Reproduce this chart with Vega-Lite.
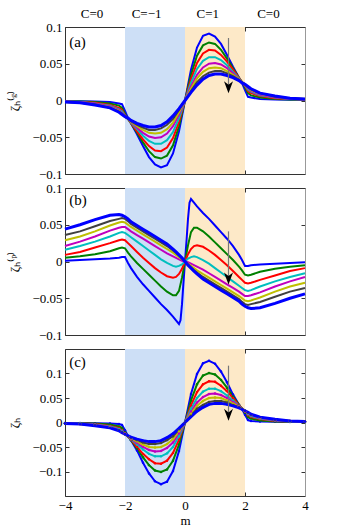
{
"$schema": "https://vega.github.io/schema/vega-lite/v6.json",
"padding": {"left": 8, "top": 7, "right": 5, "bottom": 3},
"spacing": 14,
"bounds": "flush",
"datasets": {
"shade": [{"x1": -2, "x2": 0, "s": "neg"}, {"x1": 0, "x2": 2, "s": "pos"}],
"a": [
{"k":1,"m":-4,"v":-0.001},{"k":1,"m":-3.5,"v":-0.001},{"k":1,"m":-3,"v":-0.0015},{"k":1,"m":-2.5,"v":-0.002},{"k":1,"m":-2.2,"v":-0.004},{"k":1,"m":-2.1,"v":-0.005},{"k":1,"m":-2,"v":-0.014},{"k":1,"m":-1.9,"v":-0.024},{"k":1,"m":-1.8,"v":-0.031},{"k":1,"m":-1.6,"v":-0.046},{"k":1,"m":-1.4,"v":-0.062},{"k":1,"m":-1.2,"v":-0.077},{"k":1,"m":-1,"v":-0.087},{"k":1,"m":-0.8,"v":-0.091},{"k":1,"m":-0.6,"v":-0.088},{"k":1,"m":-0.4,"v":-0.072},{"k":1,"m":-0.2,"v":-0.042},{"k":1,"m":0,"v":0},{"k":1,"m":0.2,"v":0.042},{"k":1,"m":0.4,"v":0.072},{"k":1,"m":0.6,"v":0.088},{"k":1,"m":0.8,"v":0.091},{"k":1,"m":1,"v":0.087},{"k":1,"m":1.2,"v":0.077},{"k":1,"m":1.4,"v":0.062},{"k":1,"m":1.6,"v":0.046},{"k":1,"m":1.8,"v":0.031},{"k":1,"m":1.9,"v":0.024},{"k":1,"m":2,"v":0.014},{"k":1,"m":2.1,"v":0.005},{"k":1,"m":2.2,"v":0.004},{"k":1,"m":2.5,"v":0.002},{"k":1,"m":3,"v":0.0015},{"k":1,"m":3.5,"v":0.001},{"k":1,"m":4,"v":0.001},
{"k":2,"m":-4,"v":-0.001},{"k":2,"m":-3.5,"v":-0.0015},{"k":2,"m":-3,"v":-0.002},{"k":2,"m":-2.5,"v":-0.004},{"k":2,"m":-2.2,"v":-0.007},{"k":2,"m":-2.1,"v":-0.01},{"k":2,"m":-2,"v":-0.018},{"k":2,"m":-1.9,"v":-0.025},{"k":2,"m":-1.8,"v":-0.031},{"k":2,"m":-1.6,"v":-0.044},{"k":2,"m":-1.4,"v":-0.057},{"k":2,"m":-1.2,"v":-0.069},{"k":2,"m":-1,"v":-0.077},{"k":2,"m":-0.8,"v":-0.079},{"k":2,"m":-0.6,"v":-0.075},{"k":2,"m":-0.4,"v":-0.061},{"k":2,"m":-0.2,"v":-0.035},{"k":2,"m":0,"v":0},{"k":2,"m":0.2,"v":0.035},{"k":2,"m":0.4,"v":0.061},{"k":2,"m":0.6,"v":0.075},{"k":2,"m":0.8,"v":0.079},{"k":2,"m":1,"v":0.077},{"k":2,"m":1.2,"v":0.069},{"k":2,"m":1.4,"v":0.057},{"k":2,"m":1.6,"v":0.044},{"k":2,"m":1.8,"v":0.031},{"k":2,"m":1.9,"v":0.025},{"k":2,"m":2,"v":0.018},{"k":2,"m":2.1,"v":0.01},{"k":2,"m":2.2,"v":0.007},{"k":2,"m":2.5,"v":0.004},{"k":2,"m":3,"v":0.002},{"k":2,"m":3.5,"v":0.0015},{"k":2,"m":4,"v":0.001},
{"k":3,"m":-4,"v":-0.0015},{"k":3,"m":-3.5,"v":-0.002},{"k":3,"m":-3,"v":-0.003},{"k":3,"m":-2.5,"v":-0.006},{"k":3,"m":-2.2,"v":-0.01},{"k":3,"m":-2.1,"v":-0.013},{"k":3,"m":-2,"v":-0.02},{"k":3,"m":-1.9,"v":-0.025},{"k":3,"m":-1.8,"v":-0.031},{"k":3,"m":-1.6,"v":-0.042},{"k":3,"m":-1.4,"v":-0.053},{"k":3,"m":-1.2,"v":-0.062},{"k":3,"m":-1,"v":-0.068},{"k":3,"m":-0.8,"v":-0.069},{"k":3,"m":-0.6,"v":-0.064},{"k":3,"m":-0.4,"v":-0.051},{"k":3,"m":-0.2,"v":-0.029},{"k":3,"m":0,"v":0},{"k":3,"m":0.2,"v":0.029},{"k":3,"m":0.4,"v":0.051},{"k":3,"m":0.6,"v":0.064},{"k":3,"m":0.8,"v":0.069},{"k":3,"m":1,"v":0.068},{"k":3,"m":1.2,"v":0.062},{"k":3,"m":1.4,"v":0.053},{"k":3,"m":1.6,"v":0.042},{"k":3,"m":1.8,"v":0.031},{"k":3,"m":1.9,"v":0.025},{"k":3,"m":2,"v":0.02},{"k":3,"m":2.1,"v":0.013},{"k":3,"m":2.2,"v":0.01},{"k":3,"m":2.5,"v":0.006},{"k":3,"m":3,"v":0.003},{"k":3,"m":3.5,"v":0.002},{"k":3,"m":4,"v":0.0015},
{"k":4,"m":-4,"v":-0.0015},{"k":4,"m":-3.5,"v":-0.002},{"k":4,"m":-3,"v":-0.004},{"k":4,"m":-2.5,"v":-0.007},{"k":4,"m":-2.2,"v":-0.012},{"k":4,"m":-2.1,"v":-0.015},{"k":4,"m":-2,"v":-0.021},{"k":4,"m":-1.9,"v":-0.025},{"k":4,"m":-1.8,"v":-0.03},{"k":4,"m":-1.6,"v":-0.039},{"k":4,"m":-1.4,"v":-0.048},{"k":4,"m":-1.2,"v":-0.055},{"k":4,"m":-1,"v":-0.059},{"k":4,"m":-0.8,"v":-0.059},{"k":4,"m":-0.6,"v":-0.054},{"k":4,"m":-0.4,"v":-0.043},{"k":4,"m":-0.2,"v":-0.024},{"k":4,"m":0,"v":0},{"k":4,"m":0.2,"v":0.024},{"k":4,"m":0.4,"v":0.043},{"k":4,"m":0.6,"v":0.054},{"k":4,"m":0.8,"v":0.059},{"k":4,"m":1,"v":0.059},{"k":4,"m":1.2,"v":0.055},{"k":4,"m":1.4,"v":0.048},{"k":4,"m":1.6,"v":0.039},{"k":4,"m":1.8,"v":0.03},{"k":4,"m":1.9,"v":0.025},{"k":4,"m":2,"v":0.021},{"k":4,"m":2.1,"v":0.015},{"k":4,"m":2.2,"v":0.012},{"k":4,"m":2.5,"v":0.007},{"k":4,"m":3,"v":0.004},{"k":4,"m":3.5,"v":0.002},{"k":4,"m":4,"v":0.0015},
{"k":5,"m":-4,"v":-0.0015},{"k":5,"m":-3.5,"v":-0.0025},{"k":5,"m":-3,"v":-0.004},{"k":5,"m":-2.5,"v":-0.008},{"k":5,"m":-2.2,"v":-0.013},{"k":5,"m":-2.1,"v":-0.017},{"k":5,"m":-2,"v":-0.021},{"k":5,"m":-1.9,"v":-0.025},{"k":5,"m":-1.8,"v":-0.029},{"k":5,"m":-1.6,"v":-0.037},{"k":5,"m":-1.4,"v":-0.044},{"k":5,"m":-1.2,"v":-0.049},{"k":5,"m":-1,"v":-0.051},{"k":5,"m":-0.8,"v":-0.05},{"k":5,"m":-0.6,"v":-0.045},{"k":5,"m":-0.4,"v":-0.035},{"k":5,"m":-0.2,"v":-0.019},{"k":5,"m":0,"v":0},{"k":5,"m":0.2,"v":0.019},{"k":5,"m":0.4,"v":0.035},{"k":5,"m":0.6,"v":0.045},{"k":5,"m":0.8,"v":0.05},{"k":5,"m":1,"v":0.051},{"k":5,"m":1.2,"v":0.049},{"k":5,"m":1.4,"v":0.044},{"k":5,"m":1.6,"v":0.037},{"k":5,"m":1.8,"v":0.029},{"k":5,"m":1.9,"v":0.025},{"k":5,"m":2,"v":0.021},{"k":5,"m":2.1,"v":0.017},{"k":5,"m":2.2,"v":0.013},{"k":5,"m":2.5,"v":0.008},{"k":5,"m":3,"v":0.004},{"k":5,"m":3.5,"v":0.0025},{"k":5,"m":4,"v":0.0015},
{"k":6,"m":-4,"v":-0.002},{"k":6,"m":-3.5,"v":-0.003},{"k":6,"m":-3,"v":-0.005},{"k":6,"m":-2.5,"v":-0.009},{"k":6,"m":-2.2,"v":-0.014},{"k":6,"m":-2.1,"v":-0.018},{"k":6,"m":-2,"v":-0.022},{"k":6,"m":-1.9,"v":-0.025},{"k":6,"m":-1.8,"v":-0.029},{"k":6,"m":-1.6,"v":-0.035},{"k":6,"m":-1.4,"v":-0.04},{"k":6,"m":-1.2,"v":-0.044},{"k":6,"m":-1,"v":-0.045},{"k":6,"m":-0.8,"v":-0.044},{"k":6,"m":-0.6,"v":-0.039},{"k":6,"m":-0.4,"v":-0.03},{"k":6,"m":-0.2,"v":-0.016},{"k":6,"m":0,"v":0},{"k":6,"m":0.2,"v":0.016},{"k":6,"m":0.4,"v":0.03},{"k":6,"m":0.6,"v":0.039},{"k":6,"m":0.8,"v":0.044},{"k":6,"m":1,"v":0.045},{"k":6,"m":1.2,"v":0.044},{"k":6,"m":1.4,"v":0.04},{"k":6,"m":1.6,"v":0.035},{"k":6,"m":1.8,"v":0.029},{"k":6,"m":1.9,"v":0.025},{"k":6,"m":2,"v":0.022},{"k":6,"m":2.1,"v":0.018},{"k":6,"m":2.2,"v":0.014},{"k":6,"m":2.5,"v":0.009},{"k":6,"m":3,"v":0.005},{"k":6,"m":3.5,"v":0.003},{"k":6,"m":4,"v":0.002},
{"k":7,"m":-4,"v":-0.002},{"k":7,"m":-3.5,"v":-0.003},{"k":7,"m":-3,"v":-0.005},{"k":7,"m":-2.5,"v":-0.01},{"k":7,"m":-2.2,"v":-0.015},{"k":7,"m":-2.1,"v":-0.018},{"k":7,"m":-2,"v":-0.022},{"k":7,"m":-1.9,"v":-0.025},{"k":7,"m":-1.8,"v":-0.028},{"k":7,"m":-1.6,"v":-0.033},{"k":7,"m":-1.4,"v":-0.037},{"k":7,"m":-1.2,"v":-0.04},{"k":7,"m":-1,"v":-0.04},{"k":7,"m":-0.8,"v":-0.038},{"k":7,"m":-0.6,"v":-0.033},{"k":7,"m":-0.4,"v":-0.025},{"k":7,"m":-0.2,"v":-0.013},{"k":7,"m":0,"v":0},{"k":7,"m":0.2,"v":0.013},{"k":7,"m":0.4,"v":0.025},{"k":7,"m":0.6,"v":0.033},{"k":7,"m":0.8,"v":0.038},{"k":7,"m":1,"v":0.04},{"k":7,"m":1.2,"v":0.04},{"k":7,"m":1.4,"v":0.037},{"k":7,"m":1.6,"v":0.033},{"k":7,"m":1.8,"v":0.028},{"k":7,"m":1.9,"v":0.025},{"k":7,"m":2,"v":0.022},{"k":7,"m":2.1,"v":0.018},{"k":7,"m":2.2,"v":0.015},{"k":7,"m":2.5,"v":0.01},{"k":7,"m":3,"v":0.005},{"k":7,"m":3.5,"v":0.003},{"k":7,"m":4,"v":0.002},
{"k":8,"m":-4,"v":-0.002},{"k":8,"m":-3.5,"v":-0.003},{"k":8,"m":-3,"v":-0.006},{"k":8,"m":-2.5,"v":-0.01},{"k":8,"m":-2.2,"v":-0.016},{"k":8,"m":-2.1,"v":-0.019},{"k":8,"m":-2,"v":-0.022},{"k":8,"m":-1.9,"v":-0.024},{"k":8,"m":-1.8,"v":-0.027},{"k":8,"m":-1.6,"v":-0.031},{"k":8,"m":-1.4,"v":-0.034},{"k":8,"m":-1.2,"v":-0.036},{"k":8,"m":-1,"v":-0.036},{"k":8,"m":-0.8,"v":-0.034},{"k":8,"m":-0.6,"v":-0.029},{"k":8,"m":-0.4,"v":-0.021},{"k":8,"m":-0.2,"v":-0.011},{"k":8,"m":0,"v":0},{"k":8,"m":0.2,"v":0.011},{"k":8,"m":0.4,"v":0.021},{"k":8,"m":0.6,"v":0.029},{"k":8,"m":0.8,"v":0.034},{"k":8,"m":1,"v":0.036},{"k":8,"m":1.2,"v":0.036},{"k":8,"m":1.4,"v":0.034},{"k":8,"m":1.6,"v":0.031},{"k":8,"m":1.8,"v":0.027},{"k":8,"m":1.9,"v":0.024},{"k":8,"m":2,"v":0.022},{"k":8,"m":2.1,"v":0.019},{"k":8,"m":2.2,"v":0.016},{"k":8,"m":2.5,"v":0.01},{"k":8,"m":3,"v":0.006},{"k":8,"m":3.5,"v":0.003},{"k":8,"m":4,"v":0.002}
],
"b": [
{"k":1,"m":-4,"v":0.001},{"k":1,"m":-3.5,"v":0.002},{"k":1,"m":-3,"v":0.003},{"k":1,"m":-2.5,"v":0.004},{"k":1,"m":-2.2,"v":0.005},{"k":1,"m":-2.1,"v":0.006},{"k":1,"m":-2,"v":0.006},{"k":1,"m":-1.9,"v":-0.002},{"k":1,"m":-1.8,"v":-0.009},{"k":1,"m":-1.6,"v":-0.021},{"k":1,"m":-1.4,"v":-0.031},{"k":1,"m":-1.2,"v":-0.04},{"k":1,"m":-1,"v":-0.049},{"k":1,"m":-0.8,"v":-0.058},{"k":1,"m":-0.6,"v":-0.066},{"k":1,"m":-0.4,"v":-0.075},{"k":1,"m":-0.3,"v":-0.08},{"k":1,"m":-0.2,"v":-0.085},{"k":1,"m":-0.15,"v":-0.08},{"k":1,"m":-0.1,"v":-0.058},{"k":1,"m":-0.05,"v":-0.028},{"k":1,"m":0,"v":0},{"k":1,"m":0.05,"v":0.028},{"k":1,"m":0.1,"v":0.058},{"k":1,"m":0.15,"v":0.08},{"k":1,"m":0.2,"v":0.085},{"k":1,"m":0.3,"v":0.08},{"k":1,"m":0.4,"v":0.075},{"k":1,"m":0.6,"v":0.066},{"k":1,"m":0.8,"v":0.058},{"k":1,"m":1,"v":0.049},{"k":1,"m":1.2,"v":0.04},{"k":1,"m":1.4,"v":0.031},{"k":1,"m":1.6,"v":0.021},{"k":1,"m":1.8,"v":0.009},{"k":1,"m":1.9,"v":0.002},{"k":1,"m":2,"v":-0.006},{"k":1,"m":2.1,"v":-0.006},{"k":1,"m":2.2,"v":-0.005},{"k":1,"m":2.5,"v":-0.004},{"k":1,"m":3,"v":-0.003},{"k":1,"m":3.5,"v":-0.002},{"k":1,"m":4,"v":-0.001},
{"k":2,"m":-4,"v":0.005},{"k":2,"m":-3.5,"v":0.007},{"k":2,"m":-3,"v":0.01},{"k":2,"m":-2.5,"v":0.014},{"k":2,"m":-2.2,"v":0.018},{"k":2,"m":-2.1,"v":0.019},{"k":2,"m":-2,"v":0.018},{"k":2,"m":-1.9,"v":0.012},{"k":2,"m":-1.8,"v":0.007},{"k":2,"m":-1.6,"v":-0.002},{"k":2,"m":-1.4,"v":-0.01},{"k":2,"m":-1.2,"v":-0.018},{"k":2,"m":-1,"v":-0.026},{"k":2,"m":-0.8,"v":-0.034},{"k":2,"m":-0.6,"v":-0.041},{"k":2,"m":-0.4,"v":-0.046},{"k":2,"m":-0.3,"v":-0.046},{"k":2,"m":-0.2,"v":-0.04},{"k":2,"m":-0.1,"v":-0.022},{"k":2,"m":0,"v":0},{"k":2,"m":0.1,"v":0.022},{"k":2,"m":0.2,"v":0.04},{"k":2,"m":0.3,"v":0.046},{"k":2,"m":0.4,"v":0.046},{"k":2,"m":0.6,"v":0.041},{"k":2,"m":0.8,"v":0.034},{"k":2,"m":1,"v":0.026},{"k":2,"m":1.2,"v":0.018},{"k":2,"m":1.4,"v":0.01},{"k":2,"m":1.6,"v":0.002},{"k":2,"m":1.8,"v":-0.007},{"k":2,"m":1.9,"v":-0.012},{"k":2,"m":2,"v":-0.018},{"k":2,"m":2.1,"v":-0.019},{"k":2,"m":2.2,"v":-0.018},{"k":2,"m":2.5,"v":-0.014},{"k":2,"m":3,"v":-0.01},{"k":2,"m":3.5,"v":-0.007},{"k":2,"m":4,"v":-0.005},
{"k":3,"m":-4,"v":0.009},{"k":3,"m":-3.5,"v":0.013},{"k":3,"m":-3,"v":0.019},{"k":3,"m":-2.5,"v":0.025},{"k":3,"m":-2.2,"v":0.029},{"k":3,"m":-2.1,"v":0.03},{"k":3,"m":-2,"v":0.029},{"k":3,"m":-1.9,"v":0.025},{"k":3,"m":-1.8,"v":0.021},{"k":3,"m":-1.6,"v":0.013},{"k":3,"m":-1.4,"v":0.005},{"k":3,"m":-1.2,"v":-0.002},{"k":3,"m":-1,"v":-0.009},{"k":3,"m":-0.8,"v":-0.015},{"k":3,"m":-0.6,"v":-0.02},{"k":3,"m":-0.4,"v":-0.022},{"k":3,"m":-0.3,"v":-0.021},{"k":3,"m":-0.2,"v":-0.017},{"k":3,"m":-0.1,"v":-0.01},{"k":3,"m":0,"v":0},{"k":3,"m":0.1,"v":0.01},{"k":3,"m":0.2,"v":0.017},{"k":3,"m":0.3,"v":0.021},{"k":3,"m":0.4,"v":0.022},{"k":3,"m":0.6,"v":0.02},{"k":3,"m":0.8,"v":0.015},{"k":3,"m":1,"v":0.009},{"k":3,"m":1.2,"v":0.002},{"k":3,"m":1.4,"v":-0.005},{"k":3,"m":1.6,"v":-0.013},{"k":3,"m":1.8,"v":-0.021},{"k":3,"m":1.9,"v":-0.025},{"k":3,"m":2,"v":-0.029},{"k":3,"m":2.1,"v":-0.03},{"k":3,"m":2.2,"v":-0.029},{"k":3,"m":2.5,"v":-0.025},{"k":3,"m":3,"v":-0.019},{"k":3,"m":3.5,"v":-0.013},{"k":3,"m":4,"v":-0.009},
{"k":4,"m":-4,"v":0.016},{"k":4,"m":-3.5,"v":0.021},{"k":4,"m":-3,"v":0.027},{"k":4,"m":-2.5,"v":0.034},{"k":4,"m":-2.2,"v":0.039},{"k":4,"m":-2.1,"v":0.04},{"k":4,"m":-2,"v":0.039},{"k":4,"m":-1.9,"v":0.036},{"k":4,"m":-1.8,"v":0.033},{"k":4,"m":-1.6,"v":0.027},{"k":4,"m":-1.4,"v":0.021},{"k":4,"m":-1.2,"v":0.015},{"k":4,"m":-1,"v":0.009},{"k":4,"m":-0.8,"v":0.003},{"k":4,"m":-0.6,"v":-0.002},{"k":4,"m":-0.4,"v":-0.006},{"k":4,"m":-0.3,"v":-0.007},{"k":4,"m":-0.2,"v":-0.006},{"k":4,"m":-0.1,"v":-0.004},{"k":4,"m":0,"v":0},{"k":4,"m":0.1,"v":0.004},{"k":4,"m":0.2,"v":0.006},{"k":4,"m":0.3,"v":0.007},{"k":4,"m":0.4,"v":0.006},{"k":4,"m":0.6,"v":0.002},{"k":4,"m":0.8,"v":-0.003},{"k":4,"m":1,"v":-0.009},{"k":4,"m":1.2,"v":-0.015},{"k":4,"m":1.4,"v":-0.021},{"k":4,"m":1.6,"v":-0.027},{"k":4,"m":1.8,"v":-0.033},{"k":4,"m":1.9,"v":-0.036},{"k":4,"m":2,"v":-0.039},{"k":4,"m":2.1,"v":-0.04},{"k":4,"m":2.2,"v":-0.039},{"k":4,"m":2.5,"v":-0.034},{"k":4,"m":3,"v":-0.027},{"k":4,"m":3.5,"v":-0.021},{"k":4,"m":4,"v":-0.016},
{"k":5,"m":-4,"v":0.021},{"k":5,"m":-3.5,"v":0.027},{"k":5,"m":-3,"v":0.034},{"k":5,"m":-2.5,"v":0.042},{"k":5,"m":-2.2,"v":0.046},{"k":5,"m":-2.1,"v":0.047},{"k":5,"m":-2,"v":0.047},{"k":5,"m":-1.9,"v":0.044},{"k":5,"m":-1.8,"v":0.041},{"k":5,"m":-1.6,"v":0.036},{"k":5,"m":-1.4,"v":0.031},{"k":5,"m":-1.2,"v":0.026},{"k":5,"m":-1,"v":0.021},{"k":5,"m":-0.8,"v":0.016},{"k":5,"m":-0.6,"v":0.011},{"k":5,"m":-0.4,"v":0.007},{"k":5,"m":-0.3,"v":0.005},{"k":5,"m":-0.2,"v":0.003},{"k":5,"m":-0.1,"v":0.001},{"k":5,"m":0,"v":0},{"k":5,"m":0.1,"v":-0.001},{"k":5,"m":0.2,"v":-0.003},{"k":5,"m":0.3,"v":-0.005},{"k":5,"m":0.4,"v":-0.007},{"k":5,"m":0.6,"v":-0.011},{"k":5,"m":0.8,"v":-0.016},{"k":5,"m":1,"v":-0.021},{"k":5,"m":1.2,"v":-0.026},{"k":5,"m":1.4,"v":-0.031},{"k":5,"m":1.6,"v":-0.036},{"k":5,"m":1.8,"v":-0.041},{"k":5,"m":1.9,"v":-0.044},{"k":5,"m":2,"v":-0.047},{"k":5,"m":2.1,"v":-0.047},{"k":5,"m":2.2,"v":-0.046},{"k":5,"m":2.5,"v":-0.042},{"k":5,"m":3,"v":-0.034},{"k":5,"m":3.5,"v":-0.027},{"k":5,"m":4,"v":-0.021},
{"k":6,"m":-4,"v":0.029},{"k":6,"m":-3.5,"v":0.034},{"k":6,"m":-3,"v":0.041},{"k":6,"m":-2.5,"v":0.049},{"k":6,"m":-2.2,"v":0.053},{"k":6,"m":-2.1,"v":0.054},{"k":6,"m":-2,"v":0.053},{"k":6,"m":-1.9,"v":0.05},{"k":6,"m":-1.8,"v":0.047},{"k":6,"m":-1.6,"v":0.042},{"k":6,"m":-1.4,"v":0.037},{"k":6,"m":-1.2,"v":0.032},{"k":6,"m":-1,"v":0.027},{"k":6,"m":-0.8,"v":0.022},{"k":6,"m":-0.6,"v":0.017},{"k":6,"m":-0.4,"v":0.012},{"k":6,"m":-0.3,"v":0.009},{"k":6,"m":-0.2,"v":0.006},{"k":6,"m":-0.1,"v":0.003},{"k":6,"m":0,"v":0},{"k":6,"m":0.1,"v":-0.003},{"k":6,"m":0.2,"v":-0.006},{"k":6,"m":0.3,"v":-0.009},{"k":6,"m":0.4,"v":-0.012},{"k":6,"m":0.6,"v":-0.017},{"k":6,"m":0.8,"v":-0.022},{"k":6,"m":1,"v":-0.027},{"k":6,"m":1.2,"v":-0.032},{"k":6,"m":1.4,"v":-0.037},{"k":6,"m":1.6,"v":-0.042},{"k":6,"m":1.8,"v":-0.047},{"k":6,"m":1.9,"v":-0.05},{"k":6,"m":2,"v":-0.053},{"k":6,"m":2.1,"v":-0.054},{"k":6,"m":2.2,"v":-0.053},{"k":6,"m":2.5,"v":-0.049},{"k":6,"m":3,"v":-0.041},{"k":6,"m":3.5,"v":-0.034},{"k":6,"m":4,"v":-0.029},
{"k":7,"m":-4,"v":0.036},{"k":7,"m":-3.5,"v":0.041},{"k":7,"m":-3,"v":0.048},{"k":7,"m":-2.5,"v":0.055},{"k":7,"m":-2.2,"v":0.058},{"k":7,"m":-2.1,"v":0.059},{"k":7,"m":-2,"v":0.058},{"k":7,"m":-1.9,"v":0.055},{"k":7,"m":-1.8,"v":0.051},{"k":7,"m":-1.6,"v":0.046},{"k":7,"m":-1.4,"v":0.041},{"k":7,"m":-1.2,"v":0.036},{"k":7,"m":-1,"v":0.031},{"k":7,"m":-0.8,"v":0.026},{"k":7,"m":-0.6,"v":0.021},{"k":7,"m":-0.4,"v":0.015},{"k":7,"m":-0.3,"v":0.012},{"k":7,"m":-0.2,"v":0.008},{"k":7,"m":-0.1,"v":0.004},{"k":7,"m":0,"v":0},{"k":7,"m":0.1,"v":-0.004},{"k":7,"m":0.2,"v":-0.008},{"k":7,"m":0.3,"v":-0.012},{"k":7,"m":0.4,"v":-0.015},{"k":7,"m":0.6,"v":-0.021},{"k":7,"m":0.8,"v":-0.026},{"k":7,"m":1,"v":-0.031},{"k":7,"m":1.2,"v":-0.036},{"k":7,"m":1.4,"v":-0.041},{"k":7,"m":1.6,"v":-0.046},{"k":7,"m":1.8,"v":-0.051},{"k":7,"m":1.9,"v":-0.055},{"k":7,"m":2,"v":-0.058},{"k":7,"m":2.1,"v":-0.059},{"k":7,"m":2.2,"v":-0.058},{"k":7,"m":2.5,"v":-0.055},{"k":7,"m":3,"v":-0.048},{"k":7,"m":3.5,"v":-0.041},{"k":7,"m":4,"v":-0.036},
{"k":8,"m":-4,"v":0.044},{"k":8,"m":-3.5,"v":0.05},{"k":8,"m":-3,"v":0.057},{"k":8,"m":-2.5,"v":0.063},{"k":8,"m":-2.2,"v":0.064},{"k":8,"m":-2.1,"v":0.063},{"k":8,"m":-2,"v":0.061},{"k":8,"m":-1.9,"v":0.058},{"k":8,"m":-1.8,"v":0.054},{"k":8,"m":-1.6,"v":0.049},{"k":8,"m":-1.4,"v":0.044},{"k":8,"m":-1.2,"v":0.039},{"k":8,"m":-1,"v":0.034},{"k":8,"m":-0.8,"v":0.029},{"k":8,"m":-0.6,"v":0.024},{"k":8,"m":-0.4,"v":0.017},{"k":8,"m":-0.3,"v":0.013},{"k":8,"m":-0.2,"v":0.009},{"k":8,"m":-0.1,"v":0.005},{"k":8,"m":0,"v":0},{"k":8,"m":0.1,"v":-0.005},{"k":8,"m":0.2,"v":-0.009},{"k":8,"m":0.3,"v":-0.013},{"k":8,"m":0.4,"v":-0.017},{"k":8,"m":0.6,"v":-0.024},{"k":8,"m":0.8,"v":-0.029},{"k":8,"m":1,"v":-0.034},{"k":8,"m":1.2,"v":-0.039},{"k":8,"m":1.4,"v":-0.044},{"k":8,"m":1.6,"v":-0.049},{"k":8,"m":1.8,"v":-0.054},{"k":8,"m":1.9,"v":-0.058},{"k":8,"m":2,"v":-0.061},{"k":8,"m":2.1,"v":-0.063},{"k":8,"m":2.2,"v":-0.064},{"k":8,"m":2.5,"v":-0.063},{"k":8,"m":3,"v":-0.057},{"k":8,"m":3.5,"v":-0.05},{"k":8,"m":4,"v":-0.044}
],
"c": [
{"k":1,"m":-4,"v":-0.001},{"k":1,"m":-3.5,"v":-0.001},{"k":1,"m":-3,"v":-0.0015},{"k":1,"m":-2.5,"v":-0.002},{"k":1,"m":-2.2,"v":-0.003},{"k":1,"m":-2.1,"v":-0.005},{"k":1,"m":-2,"v":-0.016},{"k":1,"m":-1.9,"v":-0.028},{"k":1,"m":-1.8,"v":-0.036},{"k":1,"m":-1.6,"v":-0.057},{"k":1,"m":-1.4,"v":-0.082},{"k":1,"m":-1.2,"v":-0.104},{"k":1,"m":-1,"v":-0.12},{"k":1,"m":-0.8,"v":-0.126},{"k":1,"m":-0.6,"v":-0.121},{"k":1,"m":-0.4,"v":-0.099},{"k":1,"m":-0.2,"v":-0.058},{"k":1,"m":0,"v":0},{"k":1,"m":0.2,"v":0.058},{"k":1,"m":0.4,"v":0.099},{"k":1,"m":0.6,"v":0.121},{"k":1,"m":0.8,"v":0.126},{"k":1,"m":1,"v":0.12},{"k":1,"m":1.2,"v":0.104},{"k":1,"m":1.4,"v":0.082},{"k":1,"m":1.6,"v":0.057},{"k":1,"m":1.8,"v":0.036},{"k":1,"m":1.9,"v":0.028},{"k":1,"m":2,"v":0.016},{"k":1,"m":2.1,"v":0.005},{"k":1,"m":2.2,"v":0.003},{"k":1,"m":2.5,"v":0.002},{"k":1,"m":3,"v":0.0015},{"k":1,"m":3.5,"v":0.001},{"k":1,"m":4,"v":0.001},
{"k":2,"m":-4,"v":-0.001},{"k":2,"m":-3.5,"v":-0.0015},{"k":2,"m":-3,"v":-0.002},{"k":2,"m":-2.5,"v":-0.004},{"k":2,"m":-2.2,"v":-0.008},{"k":2,"m":-2.1,"v":-0.011},{"k":2,"m":-2,"v":-0.02},{"k":2,"m":-1.9,"v":-0.028},{"k":2,"m":-1.8,"v":-0.036},{"k":2,"m":-1.6,"v":-0.053},{"k":2,"m":-1.4,"v":-0.071},{"k":2,"m":-1.2,"v":-0.087},{"k":2,"m":-1,"v":-0.098},{"k":2,"m":-0.8,"v":-0.101},{"k":2,"m":-0.6,"v":-0.096},{"k":2,"m":-0.4,"v":-0.078},{"k":2,"m":-0.2,"v":-0.045},{"k":2,"m":0,"v":0},{"k":2,"m":0.2,"v":0.045},{"k":2,"m":0.4,"v":0.078},{"k":2,"m":0.6,"v":0.096},{"k":2,"m":0.8,"v":0.101},{"k":2,"m":1,"v":0.098},{"k":2,"m":1.2,"v":0.087},{"k":2,"m":1.4,"v":0.071},{"k":2,"m":1.6,"v":0.053},{"k":2,"m":1.8,"v":0.036},{"k":2,"m":1.9,"v":0.028},{"k":2,"m":2,"v":0.02},{"k":2,"m":2.1,"v":0.011},{"k":2,"m":2.2,"v":0.008},{"k":2,"m":2.5,"v":0.004},{"k":2,"m":3,"v":0.002},{"k":2,"m":3.5,"v":0.0015},{"k":2,"m":4,"v":0.001},
{"k":3,"m":-4,"v":-0.0015},{"k":3,"m":-3.5,"v":-0.002},{"k":3,"m":-3,"v":-0.003},{"k":3,"m":-2.5,"v":-0.007},{"k":3,"m":-2.2,"v":-0.011},{"k":3,"m":-2.1,"v":-0.015},{"k":3,"m":-2,"v":-0.022},{"k":3,"m":-1.9,"v":-0.028},{"k":3,"m":-1.8,"v":-0.035},{"k":3,"m":-1.6,"v":-0.05},{"k":3,"m":-1.4,"v":-0.064},{"k":3,"m":-1.2,"v":-0.075},{"k":3,"m":-1,"v":-0.083},{"k":3,"m":-0.8,"v":-0.084},{"k":3,"m":-0.6,"v":-0.078},{"k":3,"m":-0.4,"v":-0.062},{"k":3,"m":-0.2,"v":-0.035},{"k":3,"m":0,"v":0},{"k":3,"m":0.2,"v":0.035},{"k":3,"m":0.4,"v":0.062},{"k":3,"m":0.6,"v":0.078},{"k":3,"m":0.8,"v":0.084},{"k":3,"m":1,"v":0.083},{"k":3,"m":1.2,"v":0.075},{"k":3,"m":1.4,"v":0.064},{"k":3,"m":1.6,"v":0.05},{"k":3,"m":1.8,"v":0.035},{"k":3,"m":1.9,"v":0.028},{"k":3,"m":2,"v":0.022},{"k":3,"m":2.1,"v":0.015},{"k":3,"m":2.2,"v":0.011},{"k":3,"m":2.5,"v":0.007},{"k":3,"m":3,"v":0.003},{"k":3,"m":3.5,"v":0.002},{"k":3,"m":4,"v":0.0015},
{"k":4,"m":-4,"v":-0.0015},{"k":4,"m":-3.5,"v":-0.002},{"k":4,"m":-3,"v":-0.004},{"k":4,"m":-2.5,"v":-0.008},{"k":4,"m":-2.2,"v":-0.013},{"k":4,"m":-2.1,"v":-0.017},{"k":4,"m":-2,"v":-0.023},{"k":4,"m":-1.9,"v":-0.028},{"k":4,"m":-1.8,"v":-0.034},{"k":4,"m":-1.6,"v":-0.045},{"k":4,"m":-1.4,"v":-0.055},{"k":4,"m":-1.2,"v":-0.064},{"k":4,"m":-1,"v":-0.069},{"k":4,"m":-0.8,"v":-0.069},{"k":4,"m":-0.6,"v":-0.063},{"k":4,"m":-0.4,"v":-0.05},{"k":4,"m":-0.2,"v":-0.028},{"k":4,"m":0,"v":0},{"k":4,"m":0.2,"v":0.028},{"k":4,"m":0.4,"v":0.05},{"k":4,"m":0.6,"v":0.063},{"k":4,"m":0.8,"v":0.069},{"k":4,"m":1,"v":0.069},{"k":4,"m":1.2,"v":0.064},{"k":4,"m":1.4,"v":0.055},{"k":4,"m":1.6,"v":0.045},{"k":4,"m":1.8,"v":0.034},{"k":4,"m":1.9,"v":0.028},{"k":4,"m":2,"v":0.023},{"k":4,"m":2.1,"v":0.017},{"k":4,"m":2.2,"v":0.013},{"k":4,"m":2.5,"v":0.008},{"k":4,"m":3,"v":0.004},{"k":4,"m":3.5,"v":0.002},{"k":4,"m":4,"v":0.0015},
{"k":5,"m":-4,"v":-0.0015},{"k":5,"m":-3.5,"v":-0.003},{"k":5,"m":-3,"v":-0.0045},{"k":5,"m":-2.5,"v":-0.009},{"k":5,"m":-2.2,"v":-0.015},{"k":5,"m":-2.1,"v":-0.019},{"k":5,"m":-2,"v":-0.023},{"k":5,"m":-1.9,"v":-0.028},{"k":5,"m":-1.8,"v":-0.033},{"k":5,"m":-1.6,"v":-0.042},{"k":5,"m":-1.4,"v":-0.05},{"k":5,"m":-1.2,"v":-0.056},{"k":5,"m":-1,"v":-0.059},{"k":5,"m":-0.8,"v":-0.058},{"k":5,"m":-0.6,"v":-0.052},{"k":5,"m":-0.4,"v":-0.041},{"k":5,"m":-0.2,"v":-0.022},{"k":5,"m":0,"v":0},{"k":5,"m":0.2,"v":0.022},{"k":5,"m":0.4,"v":0.041},{"k":5,"m":0.6,"v":0.052},{"k":5,"m":0.8,"v":0.058},{"k":5,"m":1,"v":0.059},{"k":5,"m":1.2,"v":0.056},{"k":5,"m":1.4,"v":0.05},{"k":5,"m":1.6,"v":0.042},{"k":5,"m":1.8,"v":0.033},{"k":5,"m":1.9,"v":0.028},{"k":5,"m":2,"v":0.023},{"k":5,"m":2.1,"v":0.019},{"k":5,"m":2.2,"v":0.015},{"k":5,"m":2.5,"v":0.009},{"k":5,"m":3,"v":0.0045},{"k":5,"m":3.5,"v":0.003},{"k":5,"m":4,"v":0.0015},
{"k":6,"m":-4,"v":-0.002},{"k":6,"m":-3.5,"v":-0.003},{"k":6,"m":-3,"v":-0.0055},{"k":6,"m":-2.5,"v":-0.01},{"k":6,"m":-2.2,"v":-0.016},{"k":6,"m":-2.1,"v":-0.02},{"k":6,"m":-2,"v":-0.024},{"k":6,"m":-1.9,"v":-0.028},{"k":6,"m":-1.8,"v":-0.032},{"k":6,"m":-1.6,"v":-0.039},{"k":6,"m":-1.4,"v":-0.045},{"k":6,"m":-1.2,"v":-0.05},{"k":6,"m":-1,"v":-0.051},{"k":6,"m":-0.8,"v":-0.05},{"k":6,"m":-0.6,"v":-0.044},{"k":6,"m":-0.4,"v":-0.034},{"k":6,"m":-0.2,"v":-0.018},{"k":6,"m":0,"v":0},{"k":6,"m":0.2,"v":0.018},{"k":6,"m":0.4,"v":0.034},{"k":6,"m":0.6,"v":0.044},{"k":6,"m":0.8,"v":0.05},{"k":6,"m":1,"v":0.051},{"k":6,"m":1.2,"v":0.05},{"k":6,"m":1.4,"v":0.045},{"k":6,"m":1.6,"v":0.039},{"k":6,"m":1.8,"v":0.032},{"k":6,"m":1.9,"v":0.028},{"k":6,"m":2,"v":0.024},{"k":6,"m":2.1,"v":0.02},{"k":6,"m":2.2,"v":0.016},{"k":6,"m":2.5,"v":0.01},{"k":6,"m":3,"v":0.0055},{"k":6,"m":3.5,"v":0.003},{"k":6,"m":4,"v":0.002},
{"k":7,"m":-4,"v":-0.002},{"k":7,"m":-3.5,"v":-0.003},{"k":7,"m":-3,"v":-0.0055},{"k":7,"m":-2.5,"v":-0.011},{"k":7,"m":-2.2,"v":-0.016},{"k":7,"m":-2.1,"v":-0.02},{"k":7,"m":-2,"v":-0.024},{"k":7,"m":-1.9,"v":-0.028},{"k":7,"m":-1.8,"v":-0.031},{"k":7,"m":-1.6,"v":-0.036},{"k":7,"m":-1.4,"v":-0.041},{"k":7,"m":-1.2,"v":-0.044},{"k":7,"m":-1,"v":-0.044},{"k":7,"m":-0.8,"v":-0.042},{"k":7,"m":-0.6,"v":-0.036},{"k":7,"m":-0.4,"v":-0.028},{"k":7,"m":-0.2,"v":-0.014},{"k":7,"m":0,"v":0},{"k":7,"m":0.2,"v":0.014},{"k":7,"m":0.4,"v":0.028},{"k":7,"m":0.6,"v":0.036},{"k":7,"m":0.8,"v":0.042},{"k":7,"m":1,"v":0.044},{"k":7,"m":1.2,"v":0.044},{"k":7,"m":1.4,"v":0.041},{"k":7,"m":1.6,"v":0.036},{"k":7,"m":1.8,"v":0.031},{"k":7,"m":1.9,"v":0.028},{"k":7,"m":2,"v":0.024},{"k":7,"m":2.1,"v":0.02},{"k":7,"m":2.2,"v":0.016},{"k":7,"m":2.5,"v":0.011},{"k":7,"m":3,"v":0.0055},{"k":7,"m":3.5,"v":0.003},{"k":7,"m":4,"v":0.002},
{"k":8,"m":-4,"v":-0.002},{"k":8,"m":-3.5,"v":-0.003},{"k":8,"m":-3,"v":-0.0065},{"k":8,"m":-2.5,"v":-0.011},{"k":8,"m":-2.2,"v":-0.017},{"k":8,"m":-2.1,"v":-0.021},{"k":8,"m":-2,"v":-0.024},{"k":8,"m":-1.9,"v":-0.027},{"k":8,"m":-1.8,"v":-0.03},{"k":8,"m":-1.6,"v":-0.034},{"k":8,"m":-1.4,"v":-0.037},{"k":8,"m":-1.2,"v":-0.039},{"k":8,"m":-1,"v":-0.039},{"k":8,"m":-0.8,"v":-0.037},{"k":8,"m":-0.6,"v":-0.031},{"k":8,"m":-0.4,"v":-0.023},{"k":8,"m":-0.2,"v":-0.012},{"k":8,"m":0,"v":0},{"k":8,"m":0.2,"v":0.012},{"k":8,"m":0.4,"v":0.023},{"k":8,"m":0.6,"v":0.031},{"k":8,"m":0.8,"v":0.037},{"k":8,"m":1,"v":0.039},{"k":8,"m":1.2,"v":0.039},{"k":8,"m":1.4,"v":0.037},{"k":8,"m":1.6,"v":0.034},{"k":8,"m":1.8,"v":0.03},{"k":8,"m":1.9,"v":0.027},{"k":8,"m":2,"v":0.024},{"k":8,"m":2.1,"v":0.021},{"k":8,"m":2.2,"v":0.017},{"k":8,"m":2.5,"v":0.011},{"k":8,"m":3,"v":0.0065},{"k":8,"m":3.5,"v":0.003},{"k":8,"m":4,"v":0.002}
]
},
"vconcat": [
{
"width": 240, "height": 147,
"resolve": {"axis": {"x": "independent", "y": "independent"}},
"layer": [
{"data": {"name": "shade"}, "mark": {"type": "rect"},
 "encoding": {
  "x": {"field": "x1", "type": "quantitative", "scale": {"domain": [-4, 4], "nice": false, "zero": false}, "axis": {"orient": "top", "labels": false, "title": null, "values": [-4, -2, 0, 2, 4]}},
  "x2": {"field": "x2"},
  "fill": {"field": "s", "type": "nominal", "scale": {"domain": ["neg", "pos"], "range": ["#cddff6", "#fde9c8"]}, "legend": null}}},
{"data": {"name": "a"}, "mark": {"type": "line"},
 "encoding": {
  "x": {"field": "m", "type": "quantitative", "scale": {"domain": [-4, 4], "nice": false, "zero": false}, "axis": {"orient": "bottom", "labels": false, "title": null, "values": [-4, -2, 0, 2, 4]}},
  "y": {"field": "v", "type": "quantitative", "scale": {"domain": [-0.1, 0.1], "nice": false, "zero": false}, "axis": {"orient": "left", "values": [-0.1, -0.05, 0, 0.05, 0.1], "format": ".2~f", "title": "ζₕ⁽ᵍ⁾", "titlePadding": 10}},
  "color": {"field": "k", "type": "nominal", "scale": {"domain": [1,2,3,4,5,6,7,8], "range": ["#0000ff","#008000","#ff0000","#00bfbf","#bf00bf","#bfbf00","#404040","#0000ff"]}, "legend": null},
  "strokeWidth": {"condition": {"test": "datum.k == 8", "value": 3}, "value": 2}}},
{"data": {"values": [{"m": 1.45, "y1": 0.085, "y2": 0.02}]}, "mark": {"type": "rule", "color": "#777", "strokeWidth": 1.2},
 "encoding": {
  "x": {"field": "m", "type": "quantitative", "scale": {"domain": [-4, 4], "nice": false, "zero": false}, "axis": null},
  "y": {"field": "y1", "type": "quantitative", "scale": {"domain": [-0.1, 0.1], "nice": false, "zero": false}, "axis": {"orient": "right", "labels": false, "title": null, "values": [-0.1, -0.05, 0, 0.05, 0.1], "domainColor": "#999"}},
  "y2": {"field": "y2"}}},
{"data": {"values": [{"m": 1.45, "v": 0.018}]}, "mark": {"type": "point", "shape": "M0,1L-0.75,-1L0,-0.4L0.75,-1Z", "filled": true, "color": "#000", "opacity": 1, "size": 144},
 "encoding": {
  "x": {"field": "m", "type": "quantitative", "scale": {"domain": [-4, 4], "nice": false, "zero": false}, "axis": null},
  "y": {"field": "v", "type": "quantitative", "scale": {"domain": [-0.1, 0.1], "nice": false, "zero": false}, "axis": null}}},
{"data": {"values": [{"m": -3.86, "v": 0.08, "t": "(a)"}]}, "mark": {"type": "text", "align": "left", "baseline": "middle", "fontSize": 15},
 "encoding": {
  "x": {"field": "m", "type": "quantitative", "scale": {"domain": [-4, 4], "nice": false, "zero": false}, "axis": null},
  "y": {"field": "v", "type": "quantitative", "scale": {"domain": [-0.1, 0.1], "nice": false, "zero": false}, "axis": null},
  "text": {"field": "t"}}},
{"data": {"values": [{"m": -3.1, "v": 0.1177, "t": "C=0"}, {"m": -1.28, "v": 0.1177, "t": "C=−1"}, {"m": 0.76, "v": 0.1177, "t": "C=1"}, {"m": 2.78, "v": 0.1177, "t": "C=0"}]}, "mark": {"type": "text", "align": "center", "baseline": "middle", "fontSize": 13},
 "encoding": {
  "x": {"field": "m", "type": "quantitative", "scale": {"domain": [-4, 4], "nice": false, "zero": false}, "axis": null},
  "y": {"field": "v", "type": "quantitative", "scale": {"domain": [-0.1, 0.1], "nice": false, "zero": false}, "axis": null},
  "text": {"field": "t"}}}
]
},
{
"width": 240, "height": 147,
"resolve": {"axis": {"x": "independent", "y": "independent"}},
"layer": [
{"data": {"name": "shade"}, "mark": {"type": "rect"},
 "encoding": {
  "x": {"field": "x1", "type": "quantitative", "scale": {"domain": [-4, 4], "nice": false, "zero": false}, "axis": {"orient": "top", "labels": false, "title": null, "values": [-4, -2, 0, 2, 4]}},
  "x2": {"field": "x2"},
  "fill": {"field": "s", "type": "nominal", "scale": {"domain": ["neg", "pos"], "range": ["#cddff6", "#fde9c8"]}, "legend": null}}},
{"data": {"name": "b"}, "mark": {"type": "line"},
 "encoding": {
  "x": {"field": "m", "type": "quantitative", "scale": {"domain": [-4, 4], "nice": false, "zero": false}, "axis": {"orient": "bottom", "labels": false, "title": null, "values": [-4, -2, 0, 2, 4]}},
  "y": {"field": "v", "type": "quantitative", "scale": {"domain": [-0.1, 0.1], "nice": false, "zero": false}, "axis": {"orient": "left", "values": [-0.1, -0.05, 0, 0.05, 0.1], "format": ".2~f", "title": "ζₕ⁽ᵖ⁾", "titlePadding": 10}},
  "color": {"field": "k", "type": "nominal", "scale": {"domain": [1,2,3,4,5,6,7,8], "range": ["#0000ff","#008000","#ff0000","#00bfbf","#bf00bf","#bfbf00","#404040","#0000ff"]}, "legend": null},
  "strokeWidth": {"condition": {"test": "datum.k == 8", "value": 3}, "value": 2}}},
{"data": {"values": [{"m": 1.45, "y1": 0.041, "y2": -0.022}]}, "mark": {"type": "rule", "color": "#777", "strokeWidth": 1.2},
 "encoding": {
  "x": {"field": "m", "type": "quantitative", "scale": {"domain": [-4, 4], "nice": false, "zero": false}, "axis": null},
  "y": {"field": "y1", "type": "quantitative", "scale": {"domain": [-0.1, 0.1], "nice": false, "zero": false}, "axis": {"orient": "right", "labels": false, "title": null, "values": [-0.1, -0.05, 0, 0.05, 0.1], "domainColor": "#999"}},
  "y2": {"field": "y2"}}},
{"data": {"values": [{"m": 1.45, "v": -0.023}]}, "mark": {"type": "point", "shape": "M0,1L-0.75,-1L0,-0.4L0.75,-1Z", "filled": true, "color": "#000", "opacity": 1, "size": 144},
 "encoding": {
  "x": {"field": "m", "type": "quantitative", "scale": {"domain": [-4, 4], "nice": false, "zero": false}, "axis": null},
  "y": {"field": "v", "type": "quantitative", "scale": {"domain": [-0.1, 0.1], "nice": false, "zero": false}, "axis": null}}},
{"data": {"values": [{"m": -3.86, "v": 0.083, "t": "(b)"}]}, "mark": {"type": "text", "align": "left", "baseline": "middle", "fontSize": 15},
 "encoding": {
  "x": {"field": "m", "type": "quantitative", "scale": {"domain": [-4, 4], "nice": false, "zero": false}, "axis": null},
  "y": {"field": "v", "type": "quantitative", "scale": {"domain": [-0.1, 0.1], "nice": false, "zero": false}, "axis": null},
  "text": {"field": "t"}}}
]
},
{
"width": 240, "height": 147,
"resolve": {"axis": {"x": "independent", "y": "independent"}},
"layer": [
{"data": {"name": "shade"}, "mark": {"type": "rect"},
 "encoding": {
  "x": {"field": "x1", "type": "quantitative", "scale": {"domain": [-4, 4], "nice": false, "zero": false}, "axis": {"orient": "top", "labels": false, "title": null, "values": [-4, -2, 0, 2, 4]}},
  "x2": {"field": "x2"},
  "fill": {"field": "s", "type": "nominal", "scale": {"domain": ["neg", "pos"], "range": ["#cddff6", "#fde9c8"]}, "legend": null}}},
{"data": {"name": "c"}, "mark": {"type": "line", "point": {"filled": true, "size": 6}},
 "encoding": {
  "x": {"field": "m", "type": "quantitative", "scale": {"domain": [-4, 4], "nice": false, "zero": false}, "axis": {"orient": "bottom", "title": "m", "titlePadding": 2, "values": [-4, -2, 0, 2, 4]}},
  "y": {"field": "v", "type": "quantitative", "scale": {"domain": [-0.15, 0.15], "nice": false, "zero": false}, "axis": {"orient": "left", "values": [-0.1, -0.05, 0, 0.05, 0.1], "format": ".2~f", "title": "ζₕ", "titlePadding": 10}},
  "color": {"field": "k", "type": "nominal", "scale": {"domain": [1,2,3,4,5,6,7,8], "range": ["#0000ff","#008000","#ff0000","#00bfbf","#bf00bf","#bfbf00","#404040","#0000ff"]}, "legend": null},
  "strokeWidth": {"condition": {"test": "datum.k == 8", "value": 3}, "value": 2}}},
{"data": {"values": [{"m": 1.45, "y1": 0.116, "y2": 0.017}]}, "mark": {"type": "rule", "color": "#777", "strokeWidth": 1.2},
 "encoding": {
  "x": {"field": "m", "type": "quantitative", "scale": {"domain": [-4, 4], "nice": false, "zero": false}, "axis": null},
  "y": {"field": "y1", "type": "quantitative", "scale": {"domain": [-0.15, 0.15], "nice": false, "zero": false}, "axis": {"orient": "right", "labels": false, "title": null, "values": [-0.1, -0.05, 0, 0.05, 0.1], "domainColor": "#999"}},
  "y2": {"field": "y2"}}},
{"data": {"values": [{"m": 1.45, "v": 0.0157}]}, "mark": {"type": "point", "shape": "M0,1L-0.75,-1L0,-0.4L0.75,-1Z", "filled": true, "color": "#000", "opacity": 1, "size": 144},
 "encoding": {
  "x": {"field": "m", "type": "quantitative", "scale": {"domain": [-4, 4], "nice": false, "zero": false}, "axis": null},
  "y": {"field": "v", "type": "quantitative", "scale": {"domain": [-0.15, 0.15], "nice": false, "zero": false}, "axis": null}}},
{"data": {"values": [{"m": -3.86, "v": 0.124, "t": "(c)"}]}, "mark": {"type": "text", "align": "left", "baseline": "middle", "fontSize": 15},
 "encoding": {
  "x": {"field": "m", "type": "quantitative", "scale": {"domain": [-4, 4], "nice": false, "zero": false}, "axis": null},
  "y": {"field": "v", "type": "quantitative", "scale": {"domain": [-0.15, 0.15], "nice": false, "zero": false}, "axis": null},
  "text": {"field": "t"}}}
]
}
],
"config": {
  "font": "Liberation Serif",
  "text": {"font": "Liberation Serif"},
  "view": {"stroke": null},
  "axis": {"grid": false, "labelFont": "Liberation Serif", "titleFont": "Liberation Serif", "labelFontSize": 13, "titleFontSize": 13, "titleFontWeight": "normal", "labelColor": "#000", "titleColor": "#000", "domainColor": "#333", "tickColor": "#333", "tickSize": -4, "labelPadding": 7, "labelFlush": false, "labelOverlap": false}
}
}
